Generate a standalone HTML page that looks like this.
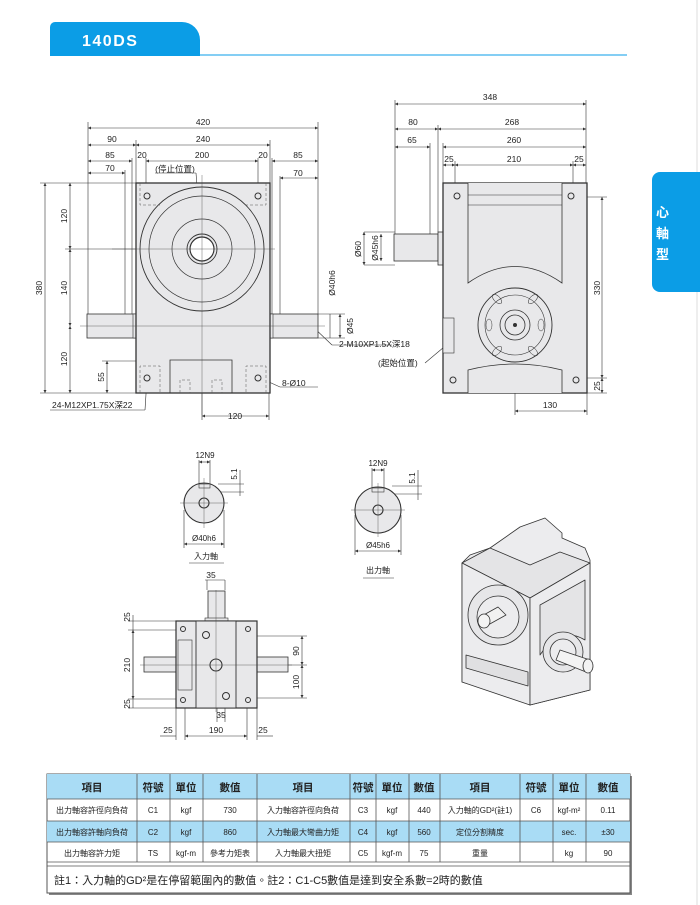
<!DOCTYPE html>
<html><head><meta charset="utf-8"><style>
body{margin:0;background:#fff;}
svg{display:block;}
text{font-family:"Liberation Sans","Noto Sans CJK TC",sans-serif;fill:#222;}
</style></head><body>
<svg width="700" height="905" viewBox="0 0 700 905" xmlns="http://www.w3.org/2000/svg">
<defs>
<marker id="a" viewBox="0 0 6 6" refX="6" refY="3" markerWidth="5" markerHeight="5" orient="auto-start-reverse"><path d="M0,0L6,3L0,6z" fill="#333"/></marker>
</defs>
<!-- header -->
<path d="M50,56V27a5,5 0 0 1 5,-5H182a18,18 0 0 1 18,18V56z" fill="#0b9de6"/>
<line x1="200" y1="55" x2="627" y2="55" stroke="#5bbdf0" stroke-width="1.5"/>
<text x="82" y="46" font-size="16" font-weight="bold" style="fill:#fff" letter-spacing="1.5">140DS</text>
<line x1="697" y1="0" x2="697" y2="905" stroke="#eee" stroke-width="2"/>
<!-- right tab -->
<path d="M700,172H660a8,8 0 0 0 -8,8V284a8,8 0 0 0 8,8H700z" fill="#0b9de6"/>
<g font-size="13" font-weight="bold" style="fill:#fff"><text x="656" y="217" style="fill:#fff">心</text><text x="656" y="238" style="fill:#fff">軸</text><text x="656" y="259" style="fill:#fff">型</text></g>

<g stroke="#333" stroke-width="0.6" fill="none">
<line x1="88" y1="128" x2="318" y2="128" marker-start="url(#a)" marker-end="url(#a)"/>
<line x1="88" y1="145" x2="136" y2="145" marker-start="url(#a)" marker-end="url(#a)"/>
<line x1="136" y1="145" x2="270" y2="145" marker-start="url(#a)" marker-end="url(#a)"/>
<line x1="88" y1="161" x2="132" y2="161" marker-start="url(#a)" marker-end="url(#a)"/>
<line x1="146" y1="161" x2="258" y2="161" marker-start="url(#a)" marker-end="url(#a)"/>
<line x1="272" y1="161" x2="318" y2="161" marker-start="url(#a)" marker-end="url(#a)"/>
<line x1="88" y1="173" x2="125" y2="173" marker-start="url(#a)" marker-end="url(#a)"/>
<line x1="280" y1="178" x2="318" y2="178" marker-start="url(#a)" marker-end="url(#a)"/>
<line x1="88" y1="122" x2="88" y2="314"/><line x1="318" y1="122" x2="318" y2="314"/>
<line x1="136" y1="140" x2="136" y2="183"/><line x1="270" y1="140" x2="270" y2="183"/>
<line x1="132" y1="158" x2="132" y2="314"/><line x1="272" y1="158" x2="272" y2="314"/>
<line x1="146" y1="158" x2="146" y2="190"/><line x1="258" y1="158" x2="258" y2="190"/>
<line x1="125" y1="170" x2="125" y2="314"/><line x1="280" y1="176" x2="280" y2="314"/>
<line x1="45" y1="183" x2="45" y2="393" marker-start="url(#a)" marker-end="url(#a)"/>
<line x1="70" y1="183" x2="70" y2="249" marker-start="url(#a)" marker-end="url(#a)"/>
<line x1="70" y1="249" x2="70" y2="326" marker-start="url(#a)" marker-end="url(#a)"/>
<line x1="70" y1="326" x2="70" y2="393" marker-start="url(#a)" marker-end="url(#a)"/>
<line x1="107" y1="361" x2="107" y2="393" marker-start="url(#a)" marker-end="url(#a)"/>
<line x1="40" y1="183" x2="136" y2="183"/><line x1="40" y1="393" x2="136" y2="393"/>
<line x1="65" y1="249" x2="136" y2="249"/><line x1="102" y1="361" x2="136" y2="361"/>
<line x1="202" y1="416" x2="269" y2="416" marker-start="url(#a)" marker-end="url(#a)"/>
<line x1="202" y1="330" x2="202" y2="420"/><line x1="269" y1="393" x2="269" y2="420"/>
<line x1="330" y1="314" x2="330" y2="338"/>
<line x1="318" y1="314" x2="345" y2="314"/><line x1="318" y1="338" x2="345" y2="338"/>
<line x1="340" y1="314" x2="340" y2="338" marker-start="url(#a)" marker-end="url(#a)"/>
<line x1="310" y1="324" x2="332" y2="345"/><line x1="332" y1="345" x2="392" y2="345"/>
<line x1="258" y1="377" x2="280" y2="387"/><line x1="280" y1="387" x2="318" y2="387"/>
<line x1="147" y1="378" x2="145" y2="410"/><line x1="145" y1="410" x2="50" y2="410"/>
<line x1="155" y1="173" x2="196" y2="173"/><line x1="196" y1="173" x2="201" y2="240"/>
</g>
<g font-size="8.5" text-anchor="middle">
<text x="203" y="125">420</text><text x="112" y="142">90</text><text x="203" y="142">240</text>
<text x="110" y="158">85</text><text x="142" y="158">20</text><text x="202" y="158">200</text><text x="263" y="158">20</text><text x="298" y="158">85</text>
<text x="110" y="171">70</text><text x="298" y="176">70</text>
<text x="175" y="172">(停止位置)</text>
<text x="235" y="419">120</text><text x="282" y="386" text-anchor="start">8-Ø10</text>
<text x="52" y="408" text-anchor="start">24-M12XP1.75X深22</text>
<text x="339" y="347" text-anchor="start">2-M10XP1.5X深18</text>
<text x="378" y="366" text-anchor="start">(起始位置)</text>
<text transform="translate(42,288) rotate(-90)">380</text>
<text transform="translate(67,216) rotate(-90)">120</text>
<text transform="translate(67,288) rotate(-90)">140</text>
<text transform="translate(67,359) rotate(-90)">120</text>
<text transform="translate(104,377) rotate(-90)">55</text>
<text transform="translate(335,283) rotate(-90)">Ø40h6</text>
<text transform="translate(353,326) rotate(-90)">Ø45</text>
</g>
<g stroke="#333" fill="#e8e8ea">
<rect x="87" y="314" width="49" height="24" stroke-width="0.8"/>
<rect x="269" y="314" width="49" height="24" stroke-width="0.8"/>
<rect x="133" y="314" width="4" height="24" stroke-width="0.6"/>
<rect x="269" y="314" width="4" height="24" stroke-width="0.6"/>
<rect x="136" y="183" width="134" height="210" stroke-width="1.3"/>
<path d="M170,393V360H232V393" fill="none" stroke-width="0.8"/>
<circle cx="202" cy="249" r="62" stroke-width="0.9"/>
<circle cx="202" cy="249" r="53" stroke-width="0.7"/>
<circle cx="202" cy="249" r="30" stroke-width="0.7"/>
<circle cx="202" cy="249" r="15" stroke-width="0.9"/>
<circle cx="202" cy="249" r="12" stroke-width="1.2" fill="#fff"/>
<circle cx="147" cy="196" r="3"/><circle cx="258" cy="196" r="3"/>
<circle cx="147" cy="378" r="3"/><circle cx="258" cy="378" r="3"/>
</g>
<g stroke="#555" stroke-width="0.5" fill="none" stroke-dasharray="3,2">
<path d="M140,183V205H160"/><path d="M266,183V205H246"/>
<path d="M140,393V366H160V393"/><path d="M266,393V366H246V393"/>
<path d="M180,393V380H190V393"/><path d="M212,393V380H222V393"/>
</g>
<g stroke="#444" stroke-width="0.4" fill="none">
<line x1="202" y1="175" x2="202" y2="415"/><line x1="112" y1="249" x2="275" y2="249"/>
<line x1="80" y1="326" x2="325" y2="326"/>
</g>

<!-- RIGHT VIEW -->
<g stroke="#333" stroke-width="0.6" fill="none">
<line x1="395" y1="104" x2="586" y2="104" marker-start="url(#a)" marker-end="url(#a)"/>
<line x1="395" y1="129" x2="438" y2="129" marker-start="url(#a)" marker-end="url(#a)"/>
<line x1="438" y1="129" x2="586" y2="129" marker-start="url(#a)" marker-end="url(#a)"/>
<line x1="395" y1="147" x2="430" y2="147" marker-start="url(#a)" marker-end="url(#a)"/>
<line x1="443" y1="147" x2="586" y2="147" marker-start="url(#a)" marker-end="url(#a)"/>
<line x1="443" y1="165" x2="455" y2="165" marker-start="url(#a)" marker-end="url(#a)"/>
<line x1="455" y1="165" x2="573" y2="165" marker-start="url(#a)" marker-end="url(#a)"/>
<line x1="573" y1="165" x2="586" y2="165" marker-start="url(#a)" marker-end="url(#a)"/>
<line x1="395" y1="100" x2="395" y2="234"/><line x1="586" y1="100" x2="586" y2="183"/>
<line x1="438" y1="125" x2="438" y2="232"/><line x1="430" y1="143" x2="430" y2="234"/>
<line x1="443" y1="143" x2="443" y2="183"/><line x1="455" y1="161" x2="455" y2="190"/><line x1="573" y1="161" x2="573" y2="190"/>
<line x1="602" y1="197" x2="602" y2="378" marker-start="url(#a)" marker-end="url(#a)"/>
<line x1="602" y1="378" x2="602" y2="393" marker-start="url(#a)" marker-end="url(#a)"/>
<line x1="587" y1="197" x2="607" y2="197"/><line x1="587" y1="378" x2="607" y2="378"/><line x1="587" y1="393" x2="607" y2="393"/>
<line x1="515" y1="411" x2="587" y2="411" marker-start="url(#a)" marker-end="url(#a)"/>
<line x1="515" y1="393" x2="515" y2="415"/><line x1="587" y1="393" x2="587" y2="415"/>
<line x1="364" y1="232" x2="395" y2="232"/><line x1="364" y1="265" x2="395" y2="265"/>
<line x1="364" y1="232" x2="364" y2="265" marker-start="url(#a)" marker-end="url(#a)"/>
<line x1="381" y1="234" x2="381" y2="261" marker-start="url(#a)" marker-end="url(#a)"/>
<line x1="425" y1="363" x2="500" y2="300"/>
</g>
<g font-size="8.5" text-anchor="middle">
<text x="490" y="100">348</text><text x="413" y="125">80</text><text x="512" y="125">268</text>
<text x="412" y="143">65</text><text x="514" y="143">260</text>
<text x="449" y="162">25</text><text x="514" y="162">210</text><text x="579" y="162">25</text>
<text x="550" y="408">130</text>
<text transform="translate(600,288) rotate(-90)">330</text>
<text transform="translate(600,386) rotate(-90)">25</text>
<text transform="translate(361,249) rotate(-90)">Ø60</text>
<text transform="translate(378,248) rotate(-90)">Ø45h6</text>
</g>
<g stroke="#333" fill="#e8e8ea">
<rect x="394" y="234" width="44" height="27" stroke-width="0.8"/>
<rect x="438" y="232" width="5" height="33" stroke-width="0.8"/>
<rect x="443" y="183" width="144" height="210" stroke-width="1.3"/>
<path d="M468,183V283Q515,250 562,283V183" stroke-width="0.8"/>
<line x1="468" y1="195" x2="562" y2="195" stroke-width="0.6"/><line x1="468" y1="205" x2="562" y2="205" stroke-width="0.6"/>
<path d="M468,393V370Q515,358 562,370V393" stroke-width="0.8"/>
<rect x="443" y="318" width="11" height="35" stroke-width="0.6"/>
<circle cx="515" cy="325" r="37" stroke-width="0.9"/>
<circle cx="515" cy="325" r="30" stroke-width="0.6"/>
<circle cx="515" cy="325" r="15" stroke-width="0.8"/>
<circle cx="515" cy="325" r="10" stroke-width="0.8"/>
<circle cx="515" cy="325" r="1.5" fill="#333"/>
<circle cx="457" cy="196" r="3"/><circle cx="571" cy="196" r="3"/>
<circle cx="453" cy="380" r="3"/><circle cx="576" cy="380" r="3"/>
<g fill="none" stroke-width="0.5">
<ellipse cx="497" cy="299" rx="3" ry="6" transform="rotate(-45 497 299)"/>
<ellipse cx="533" cy="299" rx="3" ry="6" transform="rotate(45 533 299)"/>
<ellipse cx="489" cy="325" rx="3" ry="6"/><ellipse cx="541" cy="325" rx="3" ry="6"/>
<ellipse cx="497" cy="351" rx="3" ry="6" transform="rotate(45 497 351)"/>
<ellipse cx="533" cy="351" rx="3" ry="6" transform="rotate(-45 533 351)"/>
</g>
</g>

<!-- SHAFT SECTIONS -->
<g stroke="#333" stroke-width="0.6" fill="none">
<line x1="199" y1="462" x2="210" y2="462" marker-start="url(#a)" marker-end="url(#a)"/>
<line x1="199" y1="460" x2="199" y2="485"/><line x1="210" y1="460" x2="210" y2="485"/>
<line x1="240" y1="470" x2="240" y2="496"/><line x1="218" y1="484" x2="244" y2="484"/><line x1="218" y1="492" x2="244" y2="492"/>
<line x1="184" y1="544" x2="224" y2="544" marker-start="url(#a)" marker-end="url(#a)"/>
<line x1="184" y1="510" x2="184" y2="548"/><line x1="224" y1="510" x2="224" y2="548"/>
<line x1="189" y1="563" x2="224" y2="563"/>
<line x1="372" y1="470" x2="384" y2="470" marker-start="url(#a)" marker-end="url(#a)"/>
<line x1="372" y1="468" x2="372" y2="492"/><line x1="384" y1="468" x2="384" y2="492"/>
<line x1="418" y1="470" x2="418" y2="500"/><line x1="392" y1="486" x2="422" y2="486"/><line x1="392" y1="494" x2="422" y2="494"/>
<line x1="355" y1="551" x2="401" y2="551" marker-start="url(#a)" marker-end="url(#a)"/>
<line x1="355" y1="515" x2="355" y2="555"/><line x1="401" y1="515" x2="401" y2="555"/>
<line x1="363" y1="578" x2="394" y2="578"/>
</g>
<g stroke="#333" fill="#e8e8ea">
<circle cx="204" cy="503" r="20" stroke-width="1.1"/>
<rect x="199" y="484" width="11" height="4" stroke-width="0.6"/>
<circle cx="204" cy="503" r="5" stroke-width="1.1"/>
<circle cx="378" cy="510" r="23" stroke-width="1.1"/>
<rect x="372" y="488" width="12" height="4" stroke-width="0.6"/>
<circle cx="378" cy="510" r="5" stroke-width="1.1"/>
</g>
<g stroke="#444" stroke-width="0.4"><line x1="180" y1="503" x2="228" y2="503"/><line x1="204" y1="478" x2="204" y2="528"/>
<line x1="351" y1="510" x2="405" y2="510"/><line x1="378" y1="483" x2="378" y2="537"/></g>
<g font-size="8" text-anchor="middle">
<text x="205" y="458">12N9</text><text x="378" y="466">12N9</text>
<text transform="translate(237,474) rotate(-90)">5.1</text><text transform="translate(415,478) rotate(-90)">5.1</text>
<text x="204" y="541">Ø40h6</text><text x="378" y="548">Ø45h6</text>
<text x="206" y="559">入力軸</text><text x="378" y="573">出力軸</text>
</g>

<!-- BOTTOM VIEW -->
<g stroke="#333" stroke-width="0.6" fill="none">
<line x1="205" y1="580" x2="225" y2="580"/><line x1="207" y1="580" x2="207" y2="590"/><line x1="225" y1="580" x2="225" y2="590"/>
<line x1="133" y1="615" x2="133" y2="708" />
<line x1="128" y1="621" x2="176" y2="621"/><line x1="128" y1="630" x2="176" y2="630"/>
<line x1="128" y1="699" x2="176" y2="699"/><line x1="128" y1="708" x2="176" y2="708"/>
<line x1="133" y1="630" x2="133" y2="699" marker-start="url(#a)" marker-end="url(#a)"/>
<line x1="302" y1="636" x2="302" y2="665" marker-start="url(#a)" marker-end="url(#a)"/>
<line x1="302" y1="665" x2="302" y2="698" marker-start="url(#a)" marker-end="url(#a)"/>
<line x1="240" y1="636" x2="307" y2="636"/><line x1="288" y1="665" x2="307" y2="665"/><line x1="245" y1="698" x2="307" y2="698"/>
<line x1="217" y1="705" x2="217" y2="722"/><line x1="225" y1="705" x2="225" y2="722"/>
<line x1="176" y1="708" x2="176" y2="740"/><line x1="185" y1="708" x2="185" y2="740"/>
<line x1="247" y1="708" x2="247" y2="740"/><line x1="257" y1="708" x2="257" y2="740"/>
<line x1="185" y1="736" x2="247" y2="736" marker-start="url(#a)" marker-end="url(#a)"/>
<line x1="160" y1="736" x2="176" y2="736"/><line x1="257" y1="736" x2="273" y2="736"/>
</g>
<g font-size="8.5" text-anchor="middle">
<text x="211" y="578">35</text><text x="221" y="718">35</text>
<text x="168" y="733">25</text><text x="216" y="733">190</text><text x="263" y="733">25</text>
<text transform="translate(130,617) rotate(-90)">25</text>
<text transform="translate(130,665) rotate(-90)">210</text>
<text transform="translate(130,704) rotate(-90)">25</text>
<text transform="translate(299,651) rotate(-90)">90</text>
<text transform="translate(299,682) rotate(-90)">100</text>
</g>
<g stroke="#333" fill="#e8e8ea">
<rect x="208" y="591" width="17" height="30" stroke-width="0.8"/>
<rect x="205" y="618" width="23" height="4" stroke-width="0.6"/>
<rect x="144" y="657" width="32" height="15" stroke-width="0.8"/>
<rect x="257" y="657" width="31" height="15" stroke-width="0.8"/>
<rect x="176" y="621" width="81" height="87" stroke-width="1.2"/>
<rect x="196" y="621" width="40" height="87" stroke-width="0.9"/>
<rect x="178" y="640" width="14" height="50" stroke-width="0.6"/>
<circle cx="216" cy="665" r="6" stroke-width="1.1"/>
<circle cx="206" cy="635" r="3.5"/><circle cx="226" cy="696" r="3.5"/>
<circle cx="183" cy="629" r="2.5"/><circle cx="248" cy="629" r="2.5"/>
<circle cx="183" cy="700" r="2.5"/><circle cx="248" cy="700" r="2.5"/>
</g>
<g stroke="#444" stroke-width="0.4"><line x1="216" y1="590" x2="216" y2="712"/><line x1="140" y1="665" x2="292" y2="665"/></g>

<!-- ISOMETRIC -->
<g stroke="#333" stroke-width="0.8" fill="#ececee" stroke-linejoin="round">
<path d="M520,527L545,518L562,533L562,538L585,548L590,560L590,690L530,705L522,700L462,682L462,563L470,555L490,548z"/>
<path d="M462,563L490,548L530,565L560,552L590,563L530,598z" fill="#e4e4e6"/>
<path d="M462,563L530,598L530,705L462,682z"/>
<path d="M530,598L590,563L590,690L530,705z"/>
<path d="M540,605L585,580L585,640Q560,625 540,655z" fill="#e4e4e6"/>
<circle cx="498" cy="615" r="30" fill="#e6e6e8"/>
<circle cx="498" cy="617" r="21"/>
<path d="M480,617L498,607L506,615L488,625z" fill="#f1f1f1"/>
<ellipse cx="484" cy="621" rx="6" ry="7" fill="#f3f3f3"/>
<path d="M466,655L528,672L528,686L466,668z" fill="#e0e0e2"/>
<circle cx="563" cy="652" r="20" fill="#e6e6e8"/>
<circle cx="563" cy="652" r="13"/>
<path d="M560,650L590,660L586,672L556,660z" fill="#f3f3f3"/>
<ellipse cx="588" cy="666" rx="5" ry="7" fill="#f3f3f3"/>
</g>

<!-- TABLE -->
<g font-size="8" text-anchor="middle">
<rect x="49" y="776" width="583" height="119" fill="#888"/>
<rect x="47" y="774" width="583" height="119" fill="#fff" stroke="#555" stroke-width="1"/>
<rect x="47" y="774" width="583" height="25" fill="#a9dcf5"/>
<rect x="47" y="821" width="583" height="21" fill="#a9dcf5"/>
<g stroke="#555" stroke-width="0.8">
<line x1="47" y1="799" x2="630" y2="799"/><line x1="47" y1="821" x2="630" y2="821"/><line x1="47" y1="842" x2="630" y2="842"/><line x1="47" y1="862" x2="630" y2="862"/>
<line x1="47" y1="866" x2="630" y2="866"/>
<line x1="137" y1="774" x2="137" y2="862"/><line x1="170" y1="774" x2="170" y2="862"/><line x1="203" y1="774" x2="203" y2="862"/><line x1="257" y1="774" x2="257" y2="862"/><line x1="350" y1="774" x2="350" y2="862"/><line x1="376" y1="774" x2="376" y2="862"/><line x1="409" y1="774" x2="409" y2="862"/><line x1="440" y1="774" x2="440" y2="862"/><line x1="520" y1="774" x2="520" y2="862"/><line x1="553" y1="774" x2="553" y2="862"/><line x1="586" y1="774" x2="586" y2="862"/>
</g>
<g font-size="10.5" font-weight="bold">
<text x="92" y="791">項目</text><text x="153" y="791">符號</text><text x="186" y="791">單位</text><text x="230" y="791">數值</text>
<text x="303" y="791">項目</text><text x="363" y="791">符號</text><text x="392" y="791">單位</text><text x="424" y="791">數值</text>
<text x="480" y="791">項目</text><text x="536" y="791">符號</text><text x="569" y="791">單位</text><text x="608" y="791">數值</text>
</g>
<text x="92" y="813">出力軸容許徑向負荷</text><text x="153" y="813">C1</text><text x="186" y="813">kgf</text><text x="230" y="813">730</text>
<text x="303" y="813">入力軸容許徑向負荷</text><text x="363" y="813">C3</text><text x="392" y="813">kgf</text><text x="424" y="813">440</text>
<text x="480" y="813">入力軸的GD²(註1)</text><text x="536" y="813">C6</text><text x="569" y="813">kgf-m²</text><text x="608" y="813">0.11</text>
<text x="92" y="835">出力軸容許軸向負荷</text><text x="153" y="835">C2</text><text x="186" y="835">kgf</text><text x="230" y="835">860</text>
<text x="303" y="835">入力軸最大彎曲力矩</text><text x="363" y="835">C4</text><text x="392" y="835">kgf</text><text x="424" y="835">560</text>
<text x="480" y="835">定位分割精度</text><text x="569" y="835">sec.</text><text x="608" y="835">±30</text>
<text x="92" y="856">出力軸容許力矩</text><text x="153" y="856">TS</text><text x="186" y="856">kgf-m</text><text x="230" y="856">參考力矩表</text>
<text x="303" y="856">入力軸最大扭矩</text><text x="363" y="856">C5</text><text x="392" y="856">kgf-m</text><text x="424" y="856">75</text>
<text x="480" y="856">重量</text><text x="569" y="856">kg</text><text x="608" y="856">90</text>
<text x="54" y="884" text-anchor="start" font-size="11">註1：入力軸的GD²是在停留範圍內的數值。註2：C1-C5數值是達到安全系數=2時的數值</text>
</g>
</svg>
</body></html>
